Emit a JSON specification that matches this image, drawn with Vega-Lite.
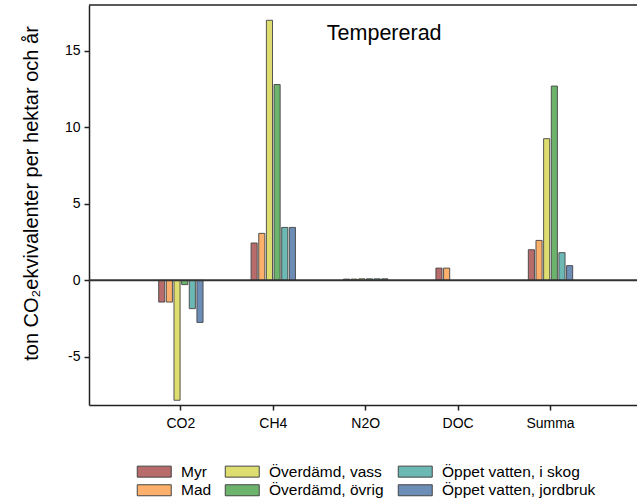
{
  "$schema": "https://vega.github.io/schema/vega-lite/v6.json",
  "width": 548,
  "height": 400,
  "autosize": {"type": "none"},
  "padding": {"left": 89, "top": 5, "right": 0, "bottom": 93},
  "config": {
    "font": "Liberation Sans",
    "view": {"stroke": null},
    "axis": {"labelColor": "#000", "titleColor": "#000", "domainColor": "#222", "tickColor": "#222", "grid": false}
  },
  "datasets": {
    "bars": [
      {"gas": "CO2", "typ": "Myr", "v": -1.42},
      {"gas": "CO2", "typ": "Mad", "v": -1.42},
      {"gas": "CO2", "typ": "Överdämd, vass", "v": -7.84},
      {"gas": "CO2", "typ": "Överdämd, övrig", "v": -0.28},
      {"gas": "CO2", "typ": "Öppet vatten, i skog", "v": -1.85},
      {"gas": "CO2", "typ": "Öppet vatten, jordbruk", "v": -2.75},
      {"gas": "CH4", "typ": "Myr", "v": 2.44},
      {"gas": "CH4", "typ": "Mad", "v": 3.07},
      {"gas": "CH4", "typ": "Överdämd, vass", "v": 17.0},
      {"gas": "CH4", "typ": "Överdämd, övrig", "v": 12.8},
      {"gas": "CH4", "typ": "Öppet vatten, i skog", "v": 3.46},
      {"gas": "CH4", "typ": "Öppet vatten, jordbruk", "v": 3.46},
      {"gas": "N2O", "typ": "Myr", "v": 0.08},
      {"gas": "N2O", "typ": "Mad", "v": 0.08},
      {"gas": "N2O", "typ": "Överdämd, vass", "v": 0.1},
      {"gas": "N2O", "typ": "Överdämd, övrig", "v": 0.1},
      {"gas": "N2O", "typ": "Öppet vatten, i skog", "v": 0.1},
      {"gas": "N2O", "typ": "Öppet vatten, jordbruk", "v": 0.1},
      {"gas": "DOC", "typ": "Myr", "v": 0.8},
      {"gas": "DOC", "typ": "Mad", "v": 0.8},
      {"gas": "Summa", "typ": "Myr", "v": 2.0},
      {"gas": "Summa", "typ": "Mad", "v": 2.61},
      {"gas": "Summa", "typ": "Överdämd, vass", "v": 9.26},
      {"gas": "Summa", "typ": "Överdämd, övrig", "v": 12.7},
      {"gas": "Summa", "typ": "Öppet vatten, i skog", "v": 1.81},
      {"gas": "Summa", "typ": "Öppet vatten, jordbruk", "v": 0.96}
    ],
    "one": [{"label": "Tempererad"}]
  },
  "layer": [
    {
      "data": {"name": "bars"},
      "mark": {"type": "bar", "stroke": "#444", "strokeWidth": 1, "strokeOpacity": 0.9},
      "encoding": {
        "x": {
          "field": "gas", "type": "nominal",
          "sort": ["CO2", "CH4", "N2O", "DOC", "Summa"],
          "scale": {"domain": ["CO2", "CH4", "N2O", "DOC", "Summa"], "paddingInner": 0.52, "paddingOuter": 0.725, "align": 0.52},
          "axis": {"title": null, "labelAngle": 0, "labelFontSize": 14, "labelPadding": 6, "tickSize": 5, "tickWidth": 1.5, "domainWidth": 1.5}
        },
        "xOffset": {
          "field": "typ", "type": "nominal",
          "scale": {"domain": ["Myr", "Mad", "Överdämd, vass", "Överdämd, övrig", "Öppet vatten, i skog", "Öppet vatten, jordbruk"], "paddingInner": 0.2, "paddingOuter": 0}
        },
        "y": {
          "field": "v", "type": "quantitative",
          "scale": {"domain": [-8.15, 18], "nice": false, "zero": false},
          "axis": {
            "title": "ton CO₂ekvivalenter per hektar och år",
            "titleFontSize": 20, "titleFontWeight": "normal",
            "titleX": -52, "titleY": 188, "titleBaseline": "alphabetic", "titleAlign": "center", "titleAngle": -90,
            "values": [-5, 0, 5, 10, 15], "labelExpr": "replace(datum.label, '−', '-')",
            "labelFontSize": 14, "tickSize": 5, "tickWidth": 1.5, "domainWidth": 1.5, "labelPadding": 4
          }
        },
        "color": {
          "field": "typ", "type": "nominal",
          "scale": {
            "domain": ["Myr", "Överdämd, vass", "Öppet vatten, i skog", "Mad", "Överdämd, övrig", "Öppet vatten, jordbruk"],
            "range": ["#b76b6b", "#dedd70", "#6bb8b5", "#fcb06b", "#6cb46c", "#6b8db6"]
          },
          "legend": {
            "title": null, "orient": "none", "legendX": 57.5, "legendY": 458.5,
            "columns": 3, "direction": "horizontal",
            "symbolType": "M-3.09,-1L3.09,-1L3.09,1L-3.09,1Z", "symbolSize": 121,
            "symbolStrokeColor": "#444", "symbolStrokeWidth": 1,
            "labelFontSize": 15.5, "labelColor": "#000", "labelOffset": 19,
            "columnPadding": 11, "rowPadding": 2
          }
        }
      }
    },
    {
      "data": {"name": "one"},
      "mark": {"type": "rule", "color": "#333", "strokeWidth": 2},
      "encoding": {"y": {"datum": 0}}
    },
    {
      "data": {"name": "one"},
      "mark": {"type": "rule", "color": "#222", "strokeWidth": 1.5},
      "encoding": {"y": {"datum": 18}}
    },
    {
      "data": {"name": "one"},
      "mark": {"type": "text", "fontSize": 21.5, "color": "#000", "dx": 18.5},
      "encoding": {"x": {"datum": "N2O"}, "y": {"datum": 16.08}, "text": {"field": "label"}}
    }
  ]
}
